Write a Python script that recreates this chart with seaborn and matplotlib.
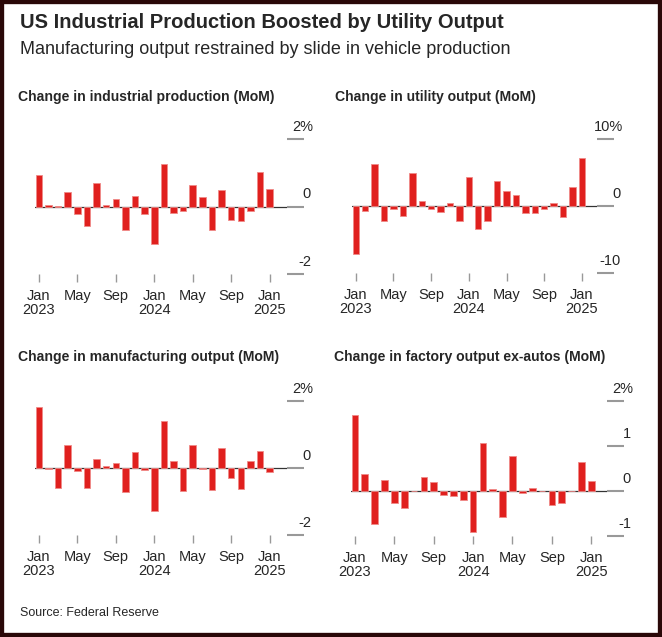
import numpy as np
import pandas as pd
import seaborn as sns
import matplotlib.pyplot as plt
from matplotlib.patches import Rectangle
import matplotlib.transforms as mtransforms

# monthly changes, Jan 2023 .. Jan 2025
industrial = [0.92, 0.05, 0.02, 0.42, -0.22, -0.57, 0.69, 0.03, 0.22, -0.69, 0.32, -0.23,
              -1.12, 1.25, -0.19, -0.14, 0.63, 0.28, -0.69, 0.50, -0.40, -0.44, -0.12, 1.02, 0.52]
utility = [-7.1, -0.7, 6.3, -2.2, -0.4, -1.5, 4.9, 0.8, -0.5, -0.9, 0.4, -2.2,
           4.3, -3.5, -2.3, 3.7, 2.3, 1.7, -1.1, -1.0, -0.4, 0.5, -1.7, 2.9, 7.2]
manufacturing = [1.82, -0.03, -0.60, 0.68, -0.08, -0.60, 0.27, 0.07, 0.15, -0.73, 0.47, -0.06,
                 -1.28, 1.40, 0.20, -0.68, 0.68, -0.03, -0.65, 0.59, -0.30, -0.63, 0.22, 0.52, -0.12]
ex_autos = [1.68, 0.38, -0.73, 0.24, -0.27, -0.37, 0.01, 0.31, 0.20, -0.08, -0.12, -0.20,
            -0.92, 1.07, 0.04, -0.58, 0.77, -0.05, 0.06, 0.01, -0.32, -0.27, 0.01, 0.65, 0.23]
months = list(range(25))
xtick_pos = [0, 4, 8, 12, 16, 20, 24]
xtick_labels = ["Jan\n2023", "May", "Sep", "Jan\n2024", "May", "Sep", "Jan\n2025"]

W, H = 662, 637
sns.set_theme(style="white")
plt.rcParams['font.family'] = ['Liberation Sans', 'DejaVu Sans']
fig = plt.figure(figsize=(W / 100, H / 100), dpi=100)

RED = "#e0201e"
GRAY = "#999999"

def px_axes(x0, x1, ytop, ybot):
    return fig.add_axes([x0 / W, 1 - ybot / H, (x1 - x0) / W, (ybot - ytop) / H])

panels = [
    ("Change in industrial production (MoM)", industrial, (35, 287, 139, 274), (-2, 2), [2, 0, -2], 25.8, 97),
    ("Change in utility output (MoM)", utility, (352, 597, 139, 273), (-10, 10), [10, 0, -10], 25.6, 97),
    ("Change in manufacturing output (MoM)", manufacturing, (35, 287, 401, 535), (-2, 2), [2, 0, -2], 25.8, 357),
    ("Change in factory output ex-autos (MoM)", ex_autos, (351, 607, 401, 536), (-1, 2), [2, 1, 0, -1], 25.6, 357),
]

for title, vals, (x0, x1, yt, yb), ylim, yticks, xmax, ty in panels:
    ax = px_axes(x0, x1, yt, yb)
    df = pd.DataFrame({"month": months, "value": vals})
    sns.barplot(data=df, x="month", y="value", native_scale=True, width=0.68,
                color=RED, saturation=1, edgecolor="#f08a88", linewidth=0.6, ax=ax)
    ax.axhline(0, color="#333333", lw=0.9, zorder=0)
    ax.set_xlim(-0.4, xmax)
    ax.set_ylim(*ylim)
    for s in ax.spines.values():
        s.set_visible(False)
    ax.set_xlabel("")
    ax.set_ylabel("")
    ax.set_xticks(xtick_pos)
    ax.set_xticklabels(xtick_labels, fontsize=10.5, linespacing=1.0)
    ax.tick_params(axis="x", length=6, width=1, color=GRAY, pad=5, bottom=True)
    ax.set_yticks(yticks)
    ax.yaxis.tick_right()
    ax.set_yticklabels([])
    ax.tick_params(axis="y", length=12, width=1.5, color=GRAY, right=True, left=False, pad=0)
    top = max(yticks)
    for v in yticks:
        lab = f"{v}%" if v == top else f"{v}"
        off = 26 if v == top else 24
        tr = mtransforms.blended_transform_factory(
            ax.transAxes + mtransforms.ScaledTranslation(off / 100, 0, fig.dpi_scale_trans),
            ax.transData + mtransforms.ScaledTranslation(0, 0.05, fig.dpi_scale_trans))
        ax.text(1.0, v, lab, transform=tr, ha="right", va="bottom", fontsize=10.5)
    fig.text((x0 - 17) / W, 1 - ty / H, title, fontsize=10.1, fontweight="bold", va="center")

fig.text(20 / W, 1 - 22 / H, "US Industrial Production Boosted by Utility Output",
         fontsize=14.5, fontweight="bold", va="center")
fig.text(20 / W, 1 - 49 / H, "Manufacturing output restrained by slide in vehicle production",
         fontsize=13, va="center")
fig.text(20 / W, 1 - 613 / H, "Source: Federal Reserve", fontsize=9, va="center")

fig.patches.append(Rectangle((0, 0), 1, 1, transform=fig.transFigure, fill=False,
                             edgecolor="#2a0808", linewidth=6))

fig.savefig("out.png", dpi=100)
